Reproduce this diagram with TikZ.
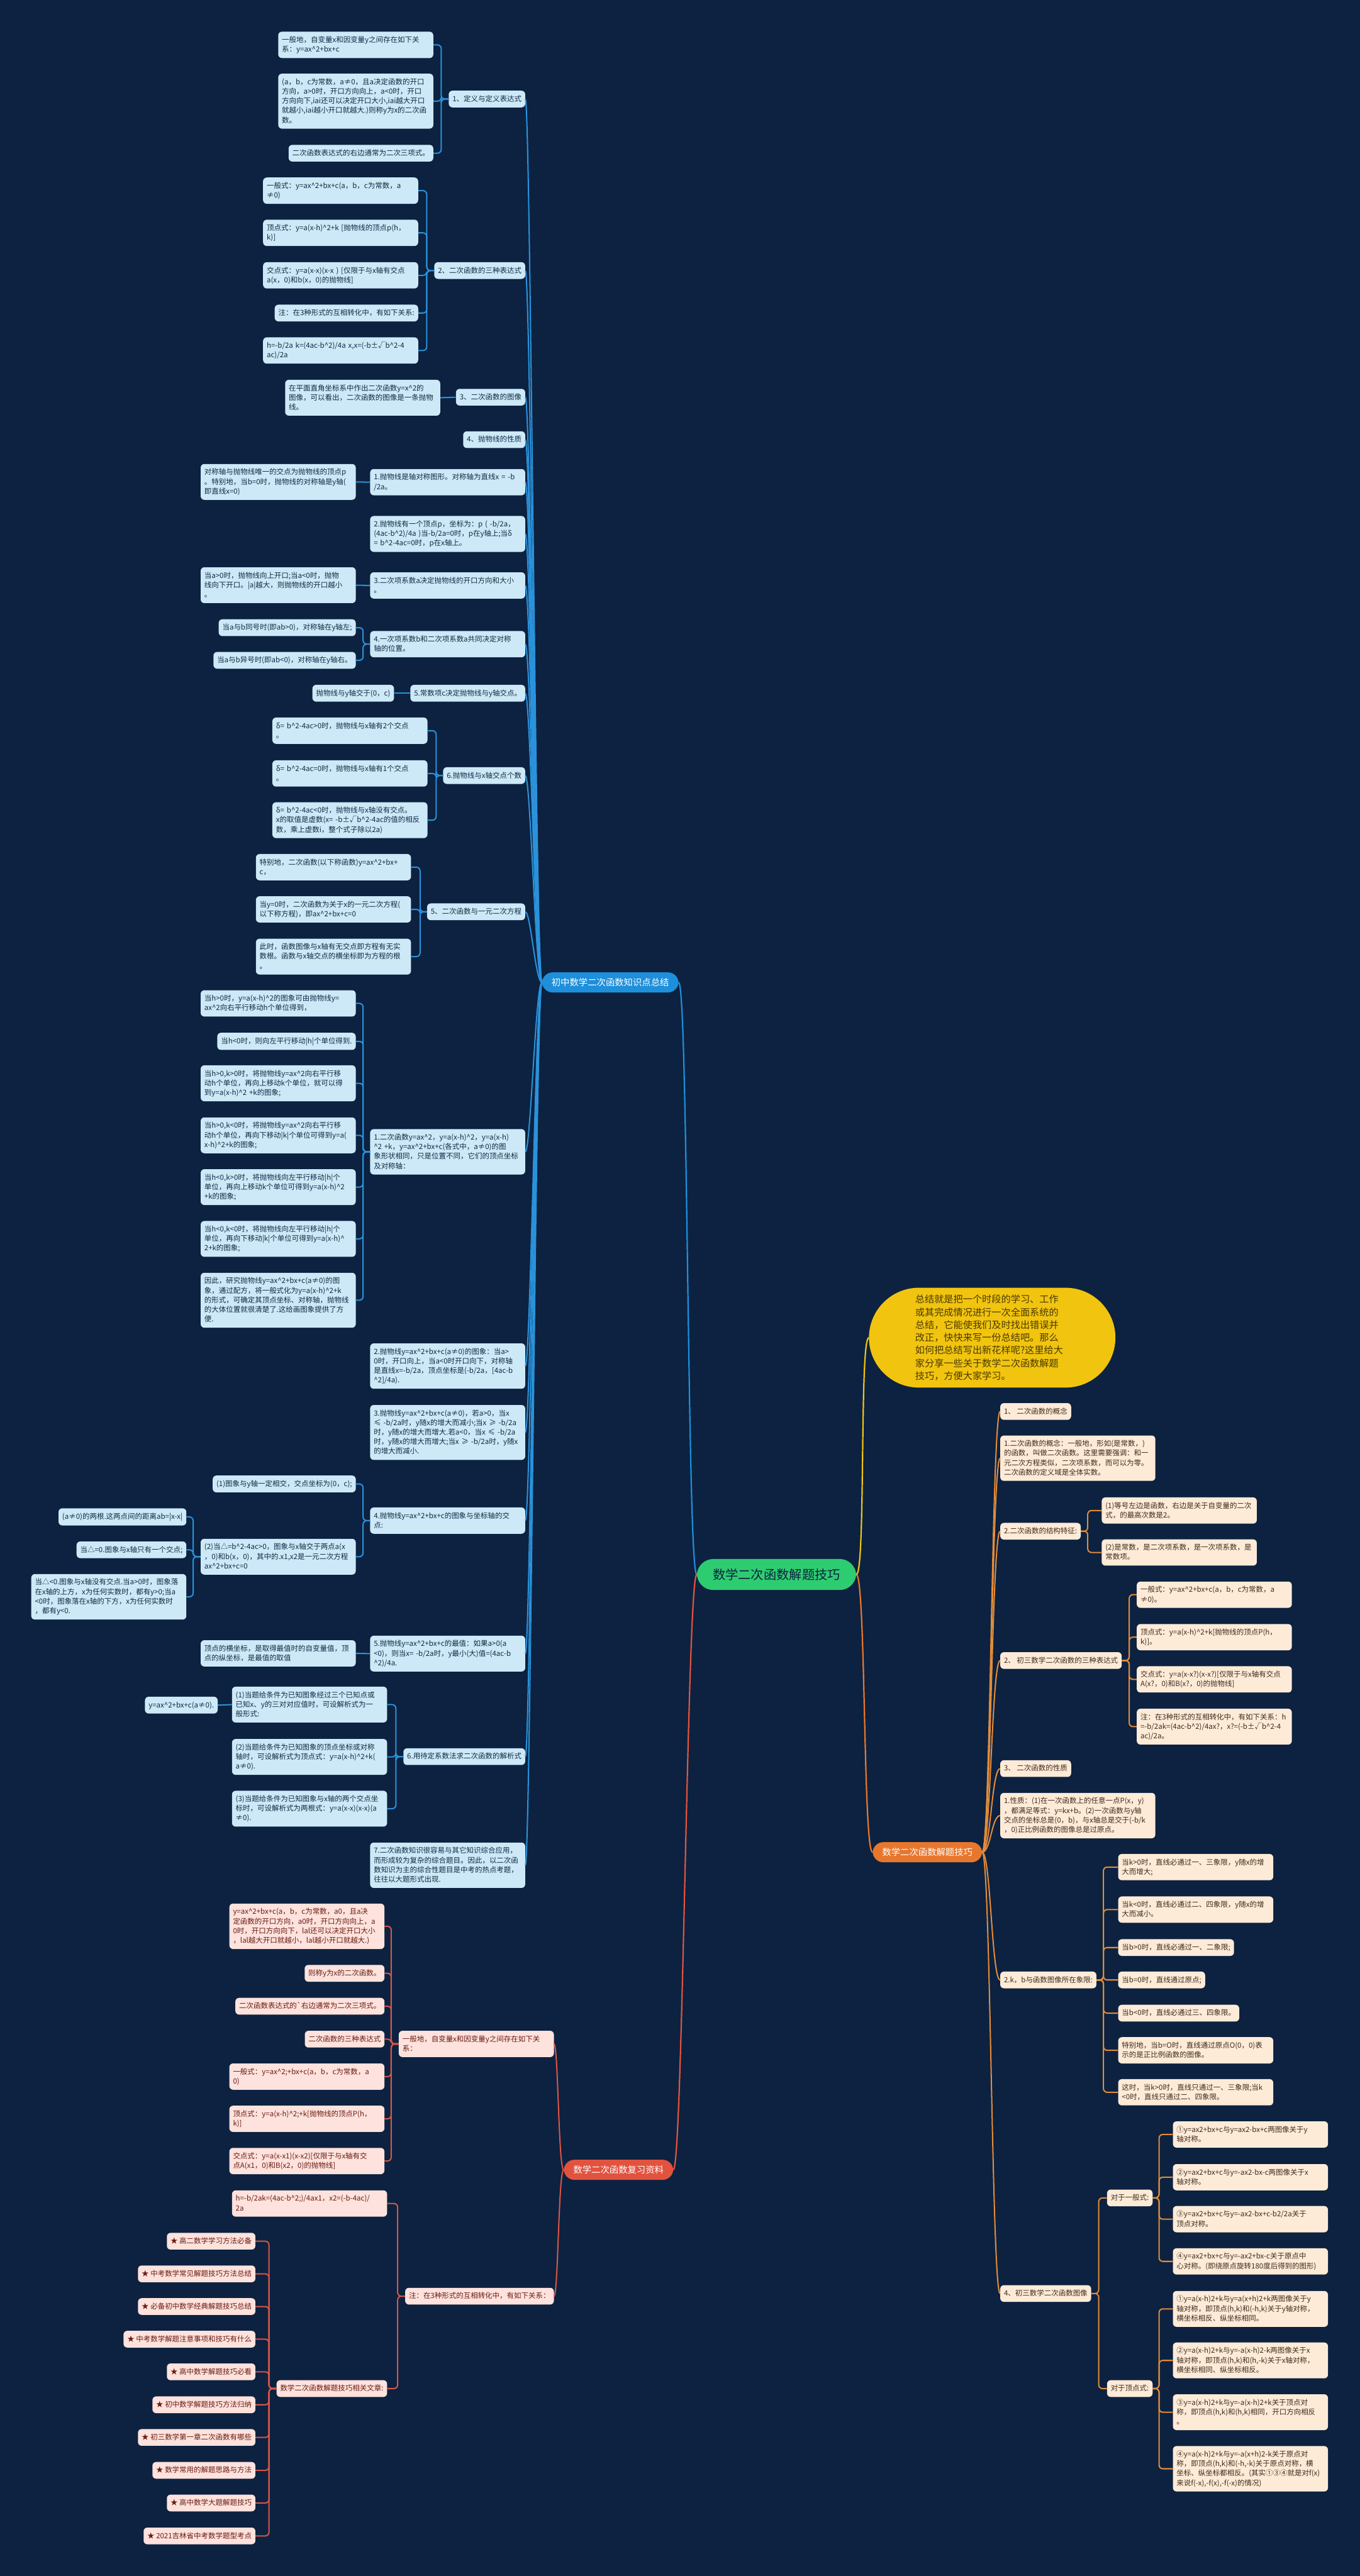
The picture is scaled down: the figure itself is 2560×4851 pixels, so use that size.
\documentclass[tikz,border=0pt]{standalone}
\usepackage{fontspec}
\setmainfont{Noto Sans CJK SC}
\newcommand{\myc}{\textasciicircum}
\newcommand{\mys}{\rule[-3pt]{0pt}{15pt}}
\definecolor{bg}{HTML}{0C2240}
\definecolor{bleaf}{HTML}{CDE9F7}
\definecolor{btext}{HTML}{102A43}
\definecolor{bcol}{HTML}{2A92DA}
\definecolor{rleaf}{HTML}{FDE2DD}
\definecolor{rtext}{HTML}{6A1B10}
\definecolor{rcol}{HTML}{D95545}
\definecolor{oleaf}{HTML}{FDEBD8}
\definecolor{otext}{HTML}{3E2A1A}
\definecolor{ocol}{HTML}{E38B3A}
\definecolor{yel}{HTML}{F1C40F}
\definecolor{ytext}{HTML}{4A3A00}
\definecolor{grn}{HTML}{2ECC71}
\definecolor{b1c}{HTML}{1E8FDB}
\definecolor{b2c}{HTML}{E8772E}
\definecolor{b3c}{HTML}{E2533F}
\tikzset{
  base/.style={rounded corners=7, inner xsep=7, inner ysep=8.25,
    font=\fontsize{13.6}{18}\selectfont, align=left,
    execute at begin node=\mys, execute at end node=\mys},
  bl/.style={base, fill=bleaf, text=btext},
  rl/.style={base, fill=rleaf, text=rtext},
  ol/.style={base, fill=oleaf, text=otext},
  tw/.style={text width=278},
  bline/.style={draw=bcol, line width=2.4, rounded corners=7},
  rline/.style={draw=rcol, line width=2.4, rounded corners=7},
  oline/.style={draw=ocol, line width=2.4, rounded corners=7},
  main/.style={rounded corners=20, inner xsep=18, inner ysep=11, font=\fontsize{17}{20}\selectfont, text=white},
}
\begin{document}
\begin{tikzpicture}[x=1pt,y=-1pt]
\fill[bg] (0,0) rectangle (2560,4851);
\useasboundingbox (0,0) rectangle (2560,4851);

% ---------------- central and branches
\node[rounded corners=31, fill=grn, text=bg, inner xsep=30, inner ysep=18, font=\fontsize{24}{28}\selectfont] (c) at (1462,2965) {数学二次函数解题技巧};
\node[main, fill=b1c] (b1) at (1149,1850) {初中数学二次函数知识点总结};
\node[main, fill=b2c] (b2) at (1746,3488) {数学二次函数解题技巧};
\node[main, fill=b3c] (b3) at (1164.5,4086) {数学二次函数复习资料};
\node[rounded corners=94, fill=yel, text=ytext, minimum width=464, minimum height=188, text width=290, align=left, font=\fontsize{18}{24}\selectfont] (bub) at (1868,2519) {总结就是把一个时段的学习、工作\\或其完成情况进行一次全面系统的\\总结，它能使我们及时找出错误并\\改正，快快来写一份总结吧。那么\\如何把总结写出新花样呢?这里给大\\家分享一些关于数学二次函数解题\\技巧，方便大家学习。};

% ---------------- blue branch
\node[bl,tw,anchor=east] (a1) at (816,84.5) {一般地，自变量x和因变量y之间存在如下关\\系：y=ax\myc{}2+bx+c};
\node[bl,tw,anchor=east] (a2) at (816,190.5) {(a，b，c为常数，a≠0，且a决定函数的开口\\方向，a>0时，开口方向向上，a<0时，开口\\方向向下,iai还可以决定开口大小,iai越大开口\\就越小,iai越小开口就越大.)则称y为x的二次函\\数。};
\node[bl,anchor=east] (a3) at (816,288.5) {二次函数表达式的右边通常为二次三项式。};
\node[bl,anchor=east] (n1) at (989,186.5) {1、定义与定义表达式};

\node[bl,tw,anchor=east] (l1) at (787.5,359) {一般式：y=ax\myc{}2+bx+c(a，b，c为常数，a\\≠0)};
\node[bl,tw,anchor=east] (l2) at (787.5,438.5) {顶点式：y=a(x-h)\myc{}2+k [抛物线的顶点p(h，\\k)]};
\node[bl,tw,anchor=east] (l3) at (787.5,518.5) {交点式：y=a(x-x)(x-x ) [仅限于与x轴有交点\\a(x，0)和b(x，0)的抛物线]};
\node[bl,anchor=east] (l4) at (787.5,589.5) {注：在3种形式的互相转化中，有如下关系:};
\node[bl,tw,anchor=east] (l5) at (787.5,660) {h=-b/2a k=(4ac-b\myc{}2)/4a x,x=(-b±√b\myc{}2-4\\ac)/2a};
\node[bl,anchor=east] (n2) at (989,509.5) {2、二次函数的三种表达式};

\node[bl,tw,anchor=east] (l6) at (829,749) {在平面直角坐标系中作出二次函数y=x\myc{}2的\\图像，可以看出，二次函数的图像是一条抛物\\线。};
\node[bl,anchor=east] (n3) at (989,748) {3、二次函数的图像};
\node[bl,anchor=east] (n4) at (989,828) {4、抛物线的性质};

\node[bl,tw,anchor=east] (c1) at (989,908) {1.抛物线是轴对称图形。对称轴为直线x = -b\\/2a。};
\node[bl,tw,anchor=east] (c1a) at (670,907.5) {对称轴与抛物线唯一的交点为抛物线的顶点p\\。特别地，当b=0时，抛物线的对称轴是y轴(\\即直线x=0)};
\node[bl,tw,anchor=east] (c2) at (989,1005.5) {2.抛物线有一个顶点p，坐标为：p ( -b/2a，\\(4ac-b\myc{}2)/4a )当-b/2a=0时，p在y轴上;当δ\\= b\myc{}2-4ac=0时，p在x轴上。};
\node[bl,tw,anchor=east] (c3) at (989,1102.5) {3.二次项系数a决定抛物线的开口方向和大小\\。};
\node[bl,tw,anchor=east] (c3a) at (670,1102) {当a>0时，抛物线向上开口;当a<0时，抛物\\线向下开口。|a|越大，则抛物线的开口越小\\。};
\node[bl,tw,anchor=east] (c4) at (989,1213) {4.一次项系数b和二次项系数a共同决定对称\\轴的位置。};
\node[bl,anchor=east] (c4a) at (670,1182) {当a与b同号时(即ab>0)，对称轴在y轴左;};
\node[bl,anchor=east] (c4b) at (670,1243.5) {当a与b异号时(即ab<0)，对称轴在y轴右。};
\node[bl,anchor=east] (c5) at (989,1305.5) {5.常数项c决定抛物线与y轴交点。};
\node[bl,anchor=east] (c5a) at (742,1305.5) {抛物线与y轴交于(0，c)};
\node[bl,anchor=east] (c6) at (989,1460.5) {6.抛物线与x轴交点个数};
\node[bl,tw,anchor=east] (c6a) at (805,1376) {δ= b\myc{}2-4ac>0时，抛物线与x轴有2个交点\\。};
\node[bl,tw,anchor=east] (c6b) at (805,1456.5) {δ= b\myc{}2-4ac=0时，抛物线与x轴有1个交点\\。};
\node[bl,tw,anchor=east] (c6c) at (805,1544.5) {δ= b\myc{}2-4ac<0时，抛物线与x轴没有交点。\\x的取值是虚数(x= -b±√b\myc{}2-4ac的值的相反\\数，乘上虚数i，整个式子除以2a)};

\node[bl,anchor=east] (n5) at (989,1717) {5、二次函数与一元二次方程};
\node[bl,tw,anchor=east] (n5a) at (774,1633) {特别地，二次函数(以下称函数)y=ax\myc{}2+bx+\\c，};
\node[bl,tw,anchor=east] (n5b) at (774,1712.5) {当y=0时，二次函数为关于x的一元二次方程(\\以下称方程)，即ax\myc{}2+bx+c=0};
\node[bl,tw,anchor=east] (n5c) at (774,1801.5) {此时，函数图像与x轴有无交点即方程有无实\\数根。函数与x轴交点的横坐标即为方程的根\\。};

\node[bl,tw,anchor=east] (d1) at (989,2169) {1.二次函数y=ax\myc{}2，y=a(x-h)\myc{}2，y=a(x-h)\\\myc{}2 +k，y=ax\myc{}2+bx+c(各式中，a≠0)的图\\象形状相同，只是位置不同，它们的顶点坐标\\及对称轴：};
\node[bl,tw,anchor=east] (d1a) at (670,1889.5) {当h>0时，y=a(x-h)\myc{}2的图象可由抛物线y=\\ax\myc{}2向右平行移动h个单位得到，};
\node[bl,anchor=east] (d1b) at (670,1961) {当h<0时，则向左平行移动|h|个单位得到.};
\node[bl,tw,anchor=east] (d1c) at (670,2040) {当h>0,k>0时，将抛物线y=ax\myc{}2向右平行移\\动h个单位，再向上移动k个单位，就可以得\\到y=a(x-h)\myc{}2 +k的图象;};
\node[bl,tw,anchor=east] (d1d) at (670,2138) {当h>0,k<0时，将抛物线y=ax\myc{}2向右平行移\\动h个单位，再向下移动|k|个单位可得到y=a(\\x-h)\myc{}2+k的图象;};
\node[bl,tw,anchor=east] (d1e) at (670,2235.5) {当h<0,k>0时，将抛物线向左平行移动|h|个\\单位，再向上移动k个单位可得到y=a(x-h)\myc{}2\\+k的图象;};
\node[bl,tw,anchor=east] (d1f) at (670,2333) {当h<0,k<0时，将抛物线向左平行移动|h|个\\单位，再向下移动|k|个单位可得到y=a(x-h)\myc{}\\2+k的图象;};
\node[bl,tw,anchor=east] (d1g) at (670,2448.5) {因此，研究抛物线y=ax\myc{}2+bx+c(a≠0)的图\\象，通过配方，将一般式化为y=a(x-h)\myc{}2+k\\的形式，可确定其顶点坐标、对称轴，抛物线\\的大体位置就很清楚了.这给画图象提供了方\\便.};
\node[bl,tw,anchor=east] (d2) at (989,2572.5) {2.抛物线y=ax\myc{}2+bx+c(a≠0)的图象：当a>\\0时，开口向上，当a<0时开口向下，对称轴\\是直线x=-b/2a，顶点坐标是(-b/2a，[4ac-b\\\myc{}2]/4a).};
\node[bl,tw,anchor=east] (d3) at (989,2697.5) {3.抛物线y=ax\myc{}2+bx+c(a≠0)，若a>0，当x\\≤ -b/2a时，y随x的增大而减小;当x ≥ -b/2a\\时，y随x的增大而增大.若a<0，当x ≤ -b/2a\\时，y随x的增大而增大;当x ≥ -b/2a时，y随x\\的增大而减小.};
\node[bl,tw,anchor=east] (d4) at (989,2863.5) {4.抛物线y=ax\myc{}2+bx+c的图象与坐标轴的交\\点:};
\node[bl,anchor=east] (d4a) at (670,2794.5) {(1)图象与y轴一定相交，交点坐标为(0，c);};
\node[bl,tw,anchor=east] (d4b) at (670,2931.5) {(2)当△=b\myc{}2-4ac>0，图象与x轴交于两点a(x\\，0)和b(x，0)，其中的.x1,x2是一元二次方程\\ax\myc{}2+bx+c=0};
\node[bl,anchor=east] (d4b1) at (351,2856.5) {(a≠0)的两根.这两点间的距离ab=|x-x|};
\node[bl,anchor=east] (d4b2) at (351,2918.5) {当△=0.图象与x轴只有一个交点;};
\node[bl,tw,anchor=east] (d4b3) at (351,3007) {当△<0.图象与x轴没有交点.当a>0时，图象落\\在x轴的上方，x为任何实数时，都有y>0;当a\\<0时，图象落在x轴的下方，x为任何实数时\\，都有y<0.};
\node[bl,tw,anchor=east] (d5) at (989,3114) {5.抛物线y=ax\myc{}2+bx+c的最值：如果a>0(a\\<0)，则当x= -b/2a时，y最小(大)值=(4ac-b\\\myc{}2)/4a.};
\node[bl,tw,anchor=east] (d5a) at (670,3113.5) {顶点的横坐标，是取得最值时的自变量值，顶\\点的纵坐标，是最值的取值};
\node[bl,anchor=east] (d6) at (989,3308) {6.用待定系数法求二次函数的解析式};
\node[bl,tw,anchor=east] (d6a) at (729,3210) {(1)当题给条件为已知图象经过三个已知点或\\已知x、y的三对对应值时，可设解析式为一\\般形式:};
\node[bl,anchor=east] (d6a1) at (410,3211) {y=ax\myc{}2+bx+c(a≠0).};
\node[bl,tw,anchor=east] (d6b) at (729,3308.5) {(2)当题给条件为已知图象的顶点坐标或对称\\轴时，可设解析式为顶点式：y=a(x-h)\myc{}2+k(\\a≠0).};
\node[bl,tw,anchor=east] (d6c) at (729,3406) {(3)当题给条件为已知图象与x轴的两个交点坐\\标时，可设解析式为两根式：y=a(x-x)(x-x)(a\\≠0).};
\node[bl,tw,anchor=east] (d7) at (989,3512.5) {7.二次函数知识很容易与其它知识综合应用，\\而形成较为复杂的综合题目。因此，以二次函\\数知识为主的综合性题目是中考的热点考题，\\往往以大题形式出现.};

% ---------------- red branch
\node[rl,tw,anchor=east] (e1) at (1043,3849) {一般地，自变量x和因变量y之间存在如下关\\系：};
\node[rl,tw,anchor=east] (e1a) at (724,3627.5) {y=ax\myc{}2+bx+c(a，b，c为常数，a0，且a决\\定函数的开口方向，a0时，开口方向向上，a\\0时，开口方向向下，lal还可以决定开口大小\\，lal越大开口就越小，lal越小开口就越大.)};
\node[rl,anchor=east] (e1b) at (724,3716) {则称y为x的二次函数。};
\node[rl,anchor=east] (e1c) at (724,3778) {二次函数表达式的\textasciigrave 右边通常为二次三项式。};
\node[rl,anchor=east] (e1d) at (724,3840) {二次函数的三种表达式};
\node[rl,tw,anchor=east] (e1e) at (724,3910.5) {一般式：y=ax\myc{}2;+bx+c(a，b，c为常数，a\\0)};
\node[rl,tw,anchor=east] (e1f) at (724,3990) {顶点式：y=a(x-h)\myc{}2;+k[抛物线的顶点P(h，\\k)]};
\node[rl,tw,anchor=east] (e1g) at (724,4069.5) {交点式：y=a(x-x1)(x-x2)[仅限于与x轴有交\\点A(x1，0)和B(x2，0)的抛物线]};
\node[rl,anchor=east] (e2) at (1043,4324) {注：在3种形式的互相转化中，有如下关系：};
\node[rl,tw,anchor=east] (e2a) at (729,4149.5) {h=-b/2ak=(4ac-b\myc{}2;)/4ax1，x2=(-b-4ac)/\\2a};
\node[rl,anchor=east] (e2b) at (729,4498) {数学二次函数解题技巧相关文章:};
\node[rl,anchor=east] (s1) at (481,4220.5) {★ 高二数学学习方法必备};
\node[rl,anchor=east] (s2) at (481,4282) {★ 中考数学常见解题技巧方法总结};
\node[rl,anchor=east] (s3) at (481,4343.5) {★ 必备初中数学经典解题技巧总结};
\node[rl,anchor=east] (s4) at (481,4405) {★ 中考数学解题注意事项和技巧有什么};
\node[rl,anchor=east] (s5) at (481,4466.5) {★ 高中数学解题技巧必看};
\node[rl,anchor=east] (s6) at (481,4528.5) {★ 初中数学解题技巧方法归纳};
\node[rl,anchor=east] (s7) at (481,4590) {★ 初三数学第一章二次函数有哪些};
\node[rl,anchor=east] (s8) at (481,4652) {★ 数学常用的解题思路与方法};
\node[rl,anchor=east] (s9) at (481,4713.5) {★ 高中数学大题解题技巧};
\node[rl,anchor=east] (s10) at (481,4775.5) {★ 2021吉林省中考数学题型考点};

% ---------------- orange branch
\node[ol,anchor=west] (o1) at (1883,2658) {1、 二次函数的概念};
\node[ol,tw,anchor=west] (o2) at (1883,2746) {1.二次函数的概念：一般地，形如(是常数，)\\的函数，叫做二次函数。这里需要强调：和一\\元二次方程类似，二次项系数，而可以为零。\\二次函数的定义域是全体实数。};
\node[ol,anchor=west] (o3) at (1883,2883.5) {2.二次函数的结构特征:};
\node[ol,tw,anchor=west] (o3a) at (2074,2844.5) {(1)等号左边是函数，右边是关于自变量的二次\\式，的最高次数是2。};
\node[ol,tw,anchor=west] (o3b) at (2074,2923.5) {(2)是常数，是二次项系数，是一次项系数，是\\常数项。};
\node[ol,anchor=west] (o4) at (1883,3127) {2、 初三数学二次函数的三种表达式};
\node[ol,tw,anchor=west] (o4a) at (2140,3003) {一般式：y=ax\myc{}2+bx+c(a，b，c为常数，a\\≠0)。};
\node[ol,tw,anchor=west] (o4b) at (2140,3083) {顶点式：y=a(x-h)\myc{}2+k[抛物线的顶点P(h，\\k)]。};
\node[ol,tw,anchor=west] (o4c) at (2140,3162.5) {交点式：y=a(x-x?)(x-x?)[仅限于与x轴有交点\\A(x?，0)和B(x?，0)的抛物线]};
\node[ol,tw,anchor=west] (o4d) at (2140,3251.5) {注：在3种形式的互相转化中，有如下关系：h\\=-b/2ak=(4ac-b\myc{}2)/4ax?，x?=(-b±√b\myc{}2-4\\ac)/2a。};
\node[ol,anchor=west] (o5) at (1883,3330.5) {3、 二次函数的性质};
\node[ol,tw,anchor=west] (o6) at (1883,3419) {1.性质：(1)在一次函数上的任意一点P(x，y)\\，都满足等式：y=kx+b。(2)一次函数与y轴\\交点的坐标总是(0，b)，与x轴总是交于(-b/k\\，0)正比例函数的图像总是过原点。};
\node[ol,anchor=west] (o7) at (1883,3728.5) {2.k，b与函数图像所在象限:};
\node[ol,tw,anchor=west] (k1) at (2105,3516) {当k>0时，直线必通过一、三象限，y随x的增\\大而增大;};
\node[ol,tw,anchor=west] (k2) at (2105,3596) {当k<0时，直线必通过二、四象限，y随x的增\\大而减小。};
\node[ol,anchor=west] (k3) at (2105,3667.5) {当b>0时，直线必通过一、二象限;};
\node[ol,anchor=west] (k4) at (2105,3728.5) {当b=0时，直线通过原点;};
\node[ol,anchor=west] (k5) at (2105,3791) {当b<0时，直线必通过三、四象限。};
\node[ol,tw,anchor=west] (k6) at (2105,3861) {特别地，当b=O时，直线通过原点O(0，0)表\\示的是正比例函数的图像。};
\node[ol,tw,anchor=west] (k7) at (2105,3940) {这时，当k>0时，直线只通过一、三象限;当k\\<0时，直线只通过二、四象限。};
\node[ol,anchor=west] (o8) at (1883,4319) {4、初三数学二次函数图像};
\node[ol,anchor=west] (p1) at (2084,4139) {对于一般式:};
\node[ol,tw,anchor=west] (g1) at (2208,4019.5) {①y=ax2+bx+c与y=ax2-bx+c两图像关于y\\轴对称。};
\node[ol,tw,anchor=west] (g2) at (2208,4100) {②y=ax2+bx+c与y=-ax2-bx-c两图像关于x\\轴对称。};
\node[ol,tw,anchor=west] (g3) at (2208,4179) {③y=ax2+bx+c与y=-ax2-bx+c-b2/2a关于\\顶点对称。};
\node[ol,tw,anchor=west] (g4) at (2208,4258.5) {④y=ax2+bx+c与y=-ax2+bx-c关于原点中\\心对称。(即绕原点旋转180度后得到的图形)};
\node[ol,anchor=west] (p2) at (2084,4498) {对于顶点式:};
\node[ol,tw,anchor=west] (v1) at (2208,4348) {①y=a(x-h)2+k与y=a(x+h)2+k两图像关于y\\轴对称，即顶点(h,k)和(-h,k)关于y轴对称，\\横坐标相反、纵坐标相同。};
\node[ol,tw,anchor=west] (v2) at (2208,4445) {②y=a(x-h)2+k与y=-a(x-h)2-k两图像关于x\\轴对称，即顶点(h,k)和(h,-k)关于x轴对称，\\横坐标相同、纵坐标相反。};
\node[ol,tw,anchor=west] (v3) at (2208,4542.5) {③y=a(x-h)2+k与y=-a(x-h)2+k关于顶点对\\称，即顶点(h,k)和(h,k)相同，开口方向相反\\。};
\node[ol,tw,anchor=west] (v4) at (2208,4649) {④y=a(x-h)2+k与y=-a(x+h)2-k关于原点对\\称，即顶点(h,k)和(-h,-k)关于原点对称，横\\坐标、纵坐标都相反。(其实①③④就是对f(x)\\来说f(-x),-f(x),-f(-x)的情况)};

% ---------------- connectors: central
\draw[draw=b1c, line width=2.6] (c.west) .. controls +(-18,0) and +(18,0) .. (b1.east);
\draw[draw=b3c, line width=2.6] (c.west) .. controls +(-18,0) and +(18,0) .. (b3.east);
\draw[draw=b2c, line width=2.6] (c.east) .. controls +(18,0) and +(-18,0) .. (b2.west);
\draw[draw=yel, line width=2.6] (c.east) .. controls +(18,0) and +(-18,0) .. (bub.west);

% blue trunk
\foreach \n in {n1,n2,n3,n4,c1,c2,c3,c4,c5,c6,n5,d1,d2,d3,d4,d5,d6,d7}
  \draw[draw=bcol, line width=2.4] (\n.east) .. controls +(10,0) and +(-12,0) .. (b1.west);
% blue brackets
\foreach \m in {a1,a2,a3} \draw[bline] (n1.west) -- ++(-14,0) |- (\m.east);
\foreach \m in {l1,l2,l3,l4,l5} \draw[bline] (n2.west) -- ++(-14,0) |- (\m.east);
\draw[bline] (n3.west) -- (l6.east);
\draw[bline] (c1.west) -- (c1a.east);
\draw[bline] (c3.west) -- (c3a.east);
\foreach \m in {c4a,c4b} \draw[bline] (c4.west) -- ++(-13,0) |- (\m.east);
\draw[bline] (c5.west) -- (c5a.east);
\foreach \m in {c6a,c6b,c6c} \draw[bline] (c6.west) -- ++(-13,0) |- (\m.east);
\foreach \m in {n5a,n5b,n5c} \draw[bline] (n5.west) -- ++(-13,0) |- (\m.east);
\foreach \m in {d1a,d1b,d1c,d1d,d1e,d1f,d1g} \draw[bline] (d1.west) -- ++(-13,0) |- (\m.east);
\foreach \m in {d4a,d4b} \draw[bline] (d4.west) -- ++(-13,0) |- (\m.east);
\foreach \m in {d4b1,d4b2,d4b3} \draw[bline] (d4b.west) -- ++(-14,0) |- (\m.east);
\draw[bline] (d5.west) -- (d5a.east);
\foreach \m in {d6a,d6b,d6c} \draw[bline] (d6.west) -- ++(-14,0) |- (\m.east);
\draw[bline] (d6a.west) -- (d6a1.east);

% red
\foreach \n in {e1,e2}
  \draw[draw=rcol, line width=2.4] (\n.east) .. controls +(8,0) and +(-10,0) .. (b3.west);
\foreach \m in {e1a,e1b,e1c,e1d,e1e,e1f,e1g} \draw[rline] (e1.west) -- ++(-14,0) |- (\m.east);
\foreach \m in {e2a,e2b} \draw[rline] (e2.west) -- ++(-14,0) |- (\m.east);
\foreach \m in {s1,s2,s3,s4,s5,s6,s7,s8,s9,s10} \draw[rline] (e2b.west) -- ++(-14,0) |- (\m.east);

% orange
\foreach \n in {o1,o2,o3,o4,o5,o6,o7,o8}
  \draw[draw=ocol, line width=2.4] (b2.east) .. controls +(16,0) and +(-16,0) .. (\n.west);
\foreach \m in {o3a,o3b} \draw[oline] (o3.east) -- ++(13,0) |- (\m.west);
\foreach \m in {o4a,o4b,o4c,o4d} \draw[oline] (o4.east) -- ++(14,0) |- (\m.west);
\foreach \m in {k1,k2,k3,k4,k5,k6,k7} \draw[oline] (o7.east) -- ++(13,0) |- (\m.west);
\foreach \m in {p1,p2} \draw[oline] (o8.east) -- ++(14,0) |- (\m.west);
\foreach \m in {g1,g2,g3,g4} \draw[oline] (p1.east) -- ++(12,0) |- (\m.west);
\foreach \m in {v1,v2,v3,v4} \draw[oline] (p2.east) -- ++(12,0) |- (\m.west);
\end{tikzpicture}
\end{document}
